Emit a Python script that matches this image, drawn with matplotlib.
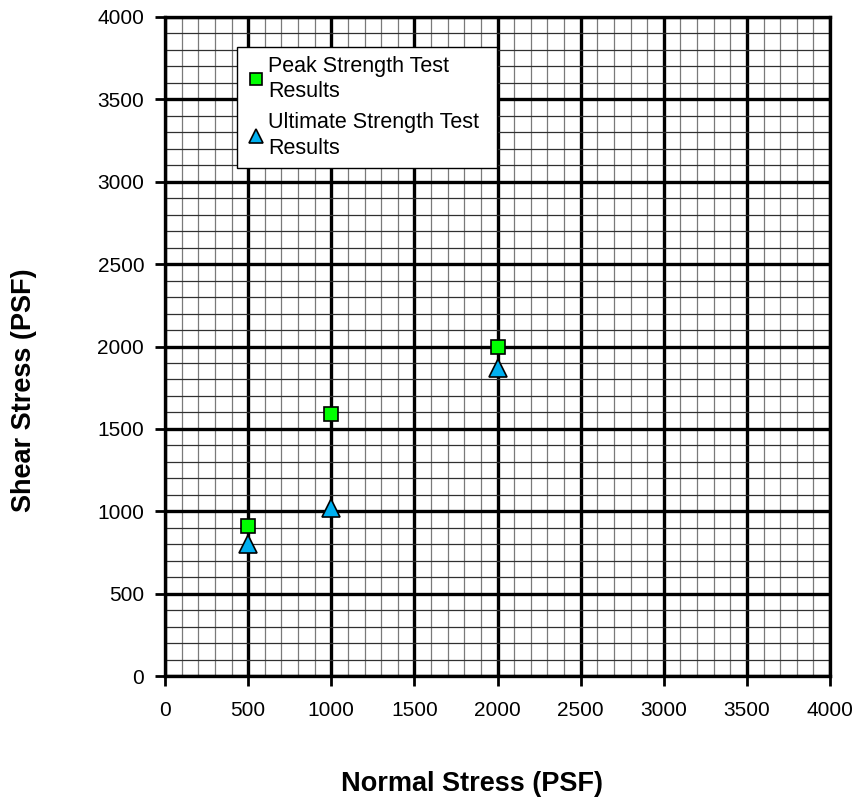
import matplotlib
matplotlib.use("Agg")
import matplotlib.pyplot as plt
import numpy as np

plt.rcParams['font.family'] = ['Liberation Sans', 'DejaVu Sans']

normal_stress = [500, 1000, 2000]
peak_strength = [910, 1590, 2000]
ultimate_strength = [800, 1020, 1870]
ticks = [0, 500, 1000, 1500, 2000, 2500, 3000, 3500, 4000]

fig = plt.figure(figsize=(8.56, 8.02), dpi=100)
ax = fig.add_axes([165/856, 1-676/802, (830-165)/856, (676-17)/802])

ax.set_xlim(0, 4000)
ax.set_ylim(0, 4000)
ax.set_xticks(ticks)
ax.set_yticks(ticks)
ax.set_xticks(np.arange(0, 4001, 100), minor=True)
ax.set_yticks(np.arange(0, 4001, 100), minor=True)
ax.xaxis.grid(True, which='minor', color='#7a7a7a', linewidth=0.9)
ax.yaxis.grid(True, which='minor', color='#303030', linewidth=0.9)
ax.grid(which='major', color='black', linewidth=2.4)
ax.set_axisbelow(True)
ax.tick_params(which='major', direction='out', length=7, width=2, labelsize=15)
ax.tick_params(axis='x', which='major', pad=11)
ax.tick_params(axis='y', which='major', pad=8)
ax.tick_params(which='minor', length=0)
for s in ax.spines.values():
    s.set_linewidth(2.4)

ax.plot(normal_stress, peak_strength, linestyle='none', marker='s', markersize=10,
        markerfacecolor='#00FF00', markeredgecolor='black', markeredgewidth=1.2,
        label='Peak Strength Test\nResults', zorder=5, clip_on=False)
ax.plot(normal_stress, ultimate_strength, linestyle='none', marker='^', markersize=13,
        markerfacecolor='#00B0F0', markeredgecolor='black', markeredgewidth=1.2,
        label='Ultimate Strength Test\nResults', zorder=5, clip_on=False)

x0 = (237-165)/665
x1 = (497-165)/665
y1 = 1-(47-17)/659
leg = ax.legend(loc='upper left', bbox_to_anchor=(x0, y1 - 0.3, x1 - x0, 0.3), mode='expand',
                fontsize=15.5, frameon=True, fancybox=False, handlelength=1.0,
                handletextpad=0.06, borderpad=0.4, labelspacing=0.45, borderaxespad=0)
leg.get_frame().set_edgecolor('black')
leg.get_frame().set_linewidth(1.0)
leg.get_frame().set_alpha(1)
for t in leg.get_texts():
    t.set_linespacing(1.3)
hs = leg.legend_handles
hs[0].set_markersize(8.5)
hs[1].set_markersize(9.5)

fig.text(472/856, 1-784/802, 'Normal Stress (PSF)', ha='center', va='center',
         fontsize=19.5, fontweight='bold')
fig.text(24/856, 1-390/802, 'Shear Stress (PSF)', ha='center', va='center',
         fontsize=19.5, fontweight='bold', rotation=90)

fig.savefig('out.png', dpi=100)
